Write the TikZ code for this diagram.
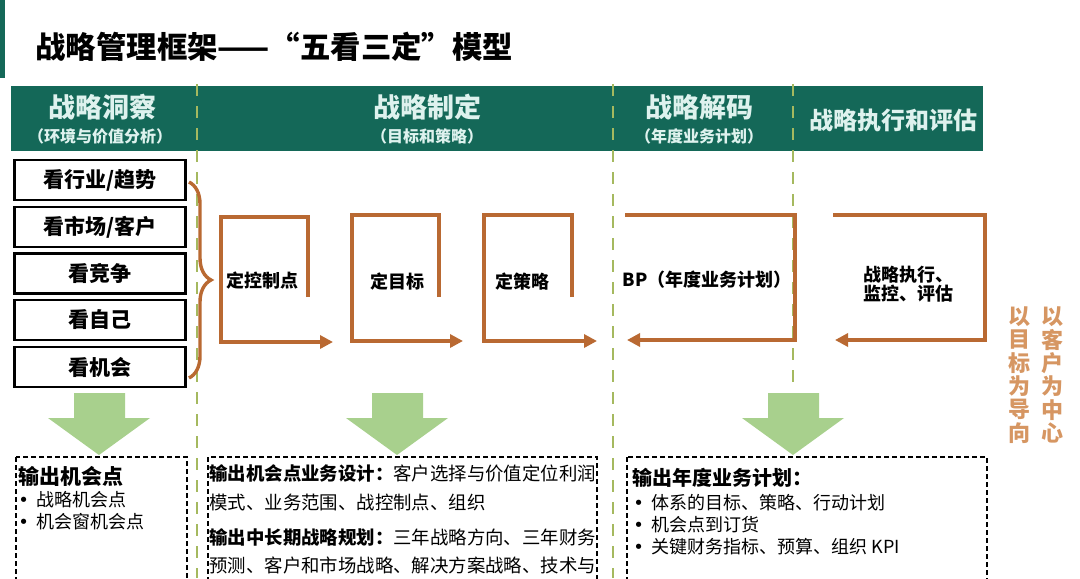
\documentclass[tikz,border=0pt]{standalone}
\usepackage{fontspec}
\setmainfont{Noto Sans CJK SC}
\newfontfamily\dotfont{DejaVu Sans}
\usepackage{tikz}
\usetikzlibrary{arrows.meta,decorations.pathreplacing}
\definecolor{BandGreen}{RGB}{20,104,88}
\definecolor{BandText}{RGB}{222,242,238}
\definecolor{LoopBrown}{RGB}{185,105,50}
\definecolor{ArrowGreen}{RGB}{168,208,141}
\definecolor{SepGreen}{RGB}{165,185,95}
\definecolor{SideOrange}{RGB}{214,150,98}
\newcommand{\bulletmark}{\makebox[9pt][l]{\dotfont •}}

\begin{document}
\begin{tikzpicture}[x=0.5pt,y=-0.5pt,
  phase/.style={text=BandText,font=\bfseries\fontsize{13.5}{15}\selectfont,inner sep=0pt},
  phasesub/.style={text=BandText,font=\bfseries\fontsize{8}{9}\selectfont,inner sep=0pt},
  lookbox/.style={draw,line width=1.2pt,minimum width=85.5pt,minimum height=20pt,
                  font=\bfseries\fontsize{10.5}{12}\selectfont,inner sep=0pt},
  loopline/.style={draw=LoopBrown,line width=2pt,line join=miter},
  looptip/.style={-{Triangle[length=6.5pt,width=6.5pt]}},
  looptext/.style={font=\bfseries\fontsize{9}{9.6}\selectfont,align=left,inner sep=0pt},
  sepline/.style={draw=SepGreen,line width=1pt,dash pattern=on 6pt off 5pt},
  outbox/.style={draw,line width=1pt,dash pattern=on 2.5pt off 1.5pt},
  outtext/.style={anchor=north west,align=left,inner sep=0pt,font=\fontsize{9}{11}\selectfont},
  bigarrow/.style={fill=ArrowGreen},
  sidetext/.style={text=SideOrange,font=\bfseries\fontsize{11}{11.7}\selectfont,align=center,inner sep=0pt},
]
\useasboundingbox[fill=white] (0,0) rectangle (1080,578);

% title
\fill[BandGreen] (0,0) rectangle (5,78);
\node[anchor=west,inner sep=0pt,font=\bfseries\fontsize{15.2}{17}\selectfont] (title) at (35,47) {战略管理框架——“五看三定”模型};

% phase band
\fill[BandGreen] (11,86) rectangle (983,151);
\node[phase] (insight) at (102,107) {战略洞察};
\node[phasesub] (insightsub) at (100,136) {（环境与价值分析）};
\node[phase] (formulate) at (427,107) {战略制定};
\node[phasesub] (formulatesub) at (427,136) {（目标和策略）};
\node[phase] (decode) at (699,107) {战略解码};
\node[phasesub] (decodesub) at (699,136) {（年度业务计划）};
\node[phase,font=\bfseries\fontsize{12}{14}\selectfont] (execute) at (893,120) {战略执行和评估};

% separators
\draw[sepline] (197,84) -- (197,578);
\draw[sepline] (613,84) -- (613,578);
\draw[sepline] (793,84) -- (793,386);

% five looks
\node[lookbox] (industry) at (100,180) {看行业/趋势};
\node[lookbox] (market) at (100,227) {看市场/客户};
\node[lookbox] (rival) at (100,273.5) {看竞争};
\node[lookbox] (self) at (100,320) {看自己};
\node[lookbox] (chance) at (100,367) {看机会};
\coordinate (bracetop) at (189,182);
\coordinate (bracebot) at (189,378);
\draw[LoopBrown,line width=1.7pt,decorate,decoration={brace,amplitude=11pt}] (bracetop) -- (bracebot);

% three settings
\node[looptext] (controlpt) at (262,281) {定控制点};
\node[looptext] (goal) at (397,282) {定目标};
\node[looptext] (strategy) at (522,282) {定策略};
\draw[loopline,looptip] (308,297) -- (308,217) -- (221,217) -- (221,342) -- (333,342);
\draw[loopline,looptip] (439,297) -- (439,215) -- (352,215) -- (352,341) -- (463,341);
\draw[loopline,looptip] (572,297) -- (572,215) -- (484,215) -- (484,341) -- (597,341);

% decoding and execution
\node[looptext] (bp) at (707,280) {BP（年度业务计划）};
\node[looptext] (monitor) at (908,284) {战略执行、\\监控、评估};
\draw[loopline,looptip] (625,215) -- (795,215) -- (795,340) -- (627,340);
\draw[loopline,looptip] (833,215) -- (985,215) -- (985,340) -- (835,340);

% side mottos
\node[sidetext] (goalcol) at (1019,375) {以\\目\\标\\为\\导\\向};
\node[sidetext] (custcol) at (1052,375) {以\\客\\户\\为\\中\\心};

% green arrows
\foreach \cx in {99,397,793}
  \fill[bigarrow] (\cx-25,393) -- (\cx+26,393) -- (\cx+26,418) -- (\cx+51,418)
    -- (\cx,455) -- (\cx-51,418) -- (\cx-25,418) -- cycle;

% outputs
\draw[outbox] (16,457) rectangle (187,600);
\draw[outbox] (208,457) rectangle (597,600);
\draw[outbox] (627,457) rectangle (987,600);

\node[outtext,font=\bfseries\fontsize{10.5}{12}\selectfont] (out1) at (18,466) {输出机会点};
\node[outtext] (out1list) at (18,491) {\bulletmark 战略机会点\\\bulletmark 机会窗机会点};

\node[outtext,font=\fontsize{9.2}{14.5}\selectfont] (design) at (209,464) {\textbf{输出机会点业务设计：}客户选择与价值定位利润\\模式、业务范围、战控制点、组织};
\node[outtext,font=\fontsize{9.2}{14}\selectfont] (longterm) at (209,528) {\textbf{输出中长期战略规划：}三年战略方向、三年财务\\预测、客户和市场战略、解决方案战略、技术与};

\node[outtext,font=\bfseries\fontsize{10}{12}\selectfont] (out3) at (632,468) {输出年度业务计划：};
\node[outtext] (out3list) at (633,494) {\bulletmark 体系的目标、策略、行动计划\\\bulletmark 机会点到订货\\\bulletmark 关键财务指标、预算、组织 KPI};
\end{tikzpicture}
\end{document}
